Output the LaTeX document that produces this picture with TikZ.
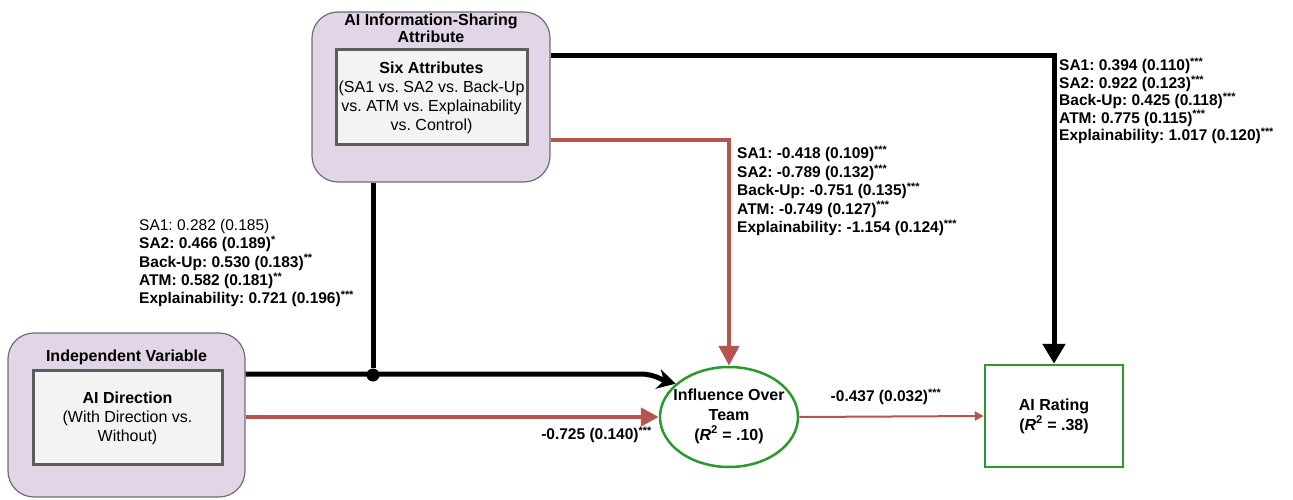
\documentclass[tikz,border=0pt]{standalone}
\usepackage{fontspec}
\setmainfont{Liberation Sans}
\usetikzlibrary{arrows.meta,shapes.geometric,calc}
\definecolor{purp}{HTML}{E1D5E7}
\definecolor{purpb}{HTML}{6E6E6E}
\definecolor{innerf}{HTML}{F3F3F3}
\definecolor{innerb}{HTML}{5C5C5C}
\definecolor{redl}{HTML}{B85450}
\definecolor{greenl}{HTML}{2A9A2A}
\tikzset{
  outerbox/.style={draw=purpb, line width=1.2pt, fill=purp, rounded corners=26pt, minimum width=#1},
  innerbox/.style={draw=innerb, line width=3pt, fill=innerf, align=center, inner sep=0pt},
  blk/.style={line width=5pt, black},
  redthick/.style={line width=4.5pt, redl},
  redthin/.style={line width=2pt, redl},
  lbl/.style={align=left, anchor=north west, inner sep=0pt, font=\fontsize{15.5}{18.3}\selectfont},
}
\newcommand{\st}[1]{\textsuperscript{#1}}
\frenchspacing
\begin{document}
\begin{tikzpicture}[x=1pt,y=1pt]
\useasboundingbox (0,0) rectangle (1293,499);

% top box
\node[outerbox=238pt, minimum height=170pt, draw, rectangle] (top) at (431,402) {};
\node[font=\bfseries\fontsize{16}{17.5}\selectfont, align=center] (toptitle) at (431,470.5) {AI Information-Sharing\\Attribute};
\node[innerbox, minimum width=191pt, minimum height=95pt] (topin) at (431.5,401.5) {};
\node[align=center, font=\fontsize{16}{19}\selectfont] (toptext) at (431.5,401) {\textbf{Six Attributes}\\(SA1 vs. SA2 vs. Back-Up\\vs. ATM vs. Explainability\\vs. Control)};

% left box
\node[outerbox=237pt, minimum height=164pt, draw, rectangle] (left) at (126.5,84) {};
\node[font=\bfseries\fontsize{16}{17}\selectfont] (lefttitle) at (126.5,142) {Independent Variable};
\node[innerbox, minimum width=189pt, minimum height=94pt] (leftin) at (127.5,82) {};
\node[align=center, font=\fontsize{16}{19}\selectfont] (lefttext) at (127.5,81) {\textbf{AI Direction}\\(With Direction vs.\\Without)};

% ellipse
\node[ellipse, draw=greenl, line width=2.5pt, fill=white, minimum width=138pt, minimum height=100pt, inner sep=0pt] (ell) at (729,82) {};
\node[align=center, inner sep=0pt, font=\bfseries\fontsize{16}{20}\selectfont] (elltext) at (729,83) {Influence Over\\Team\\(\textit{R}\textsuperscript{2} = .10)};

% AI rating
\node[rectangle, draw=greenl, line width=2.5pt, fill=white, minimum width=138pt, minimum height=102pt, align=center, font=\bfseries\fontsize{16}{20}\selectfont] (rating) at (1054,83) {AI Rating\\(\textit{R}\textsuperscript{2} = .38)};

% connectors
\coordinate (tE1) at ([yshift=41pt]top.east);
\coordinate (tE2) at ([yshift=-43pt]top.east);
\coordinate (lE1) at ([yshift=41pt]left.east);
\coordinate (lE2) at ([yshift=-2pt]left.east);

\draw[blk, -{Triangle[width=22pt,length=20pt]}] (tE1) -| (rating.north);
\draw[redthick, -{Triangle[width=20pt,length=20pt]}] (tE2) -| (ell.north);
\node[circle, fill=black, inner sep=0pt, minimum size=13pt] (dot) at (373,124) {};
\draw[blk] (top.south -| dot) -- (dot);
\draw[blk, -{Stealth[width=20pt,length=18pt]}] (lE1) -- (640,125) to[out=0,in=165] (ell.148);
\draw[redthick, -{Triangle[width=18pt,length=18pt]}] (lE2) -- (ell.west);
\draw[redthin, -{Triangle[width=9pt,length=9pt]}] (ell.east) -- (rating.west);

% labels
\node[lbl, font=\bfseries\fontsize{15.5}{17.4}\selectfont] (lblR) at (1059,441) {SA1: 0.394 (0.110)\st{***}\\SA2: 0.922 (0.123)\st{***}\\Back-Up: 0.425 (0.118)\st{***}\\ATM: 0.775 (0.115)\st{***}\\Explainability: 1.017 (0.120)\st{***}};
\node[lbl, font=\bfseries\fontsize{15.5}{18.4}\selectfont] (lblM) at (737,353) {SA1: -0.418 (0.109)\st{***}\\SA2: -0.789 (0.132)\st{***}\\Back-Up: -0.751 (0.135)\st{***}\\ATM: -0.749 (0.127)\st{***}\\Explainability: -1.154 (0.124)\st{***}};
\node[lbl] (lblL) at (139,280) {SA1: 0.282 (0.185)\\\textbf{SA2: 0.466 (0.189)\st{*}}\\\textbf{Back-Up: 0.530 (0.183)\st{**}}\\\textbf{ATM: 0.582 (0.181)\st{**}}\\\textbf{Explainability: 0.721 (0.196)\st{***}}};
\node[font=\bfseries\fontsize{15.5}{16}\selectfont, anchor=east, inner sep=0pt] (lblD) at (652,64) {-0.725 (0.140)\st{***}};
\node[font=\bfseries\fontsize{15.5}{16}\selectfont, inner sep=0pt] (lblE) at (886,102) {-0.437 (0.032)\st{***}};
\end{tikzpicture}
\end{document}
